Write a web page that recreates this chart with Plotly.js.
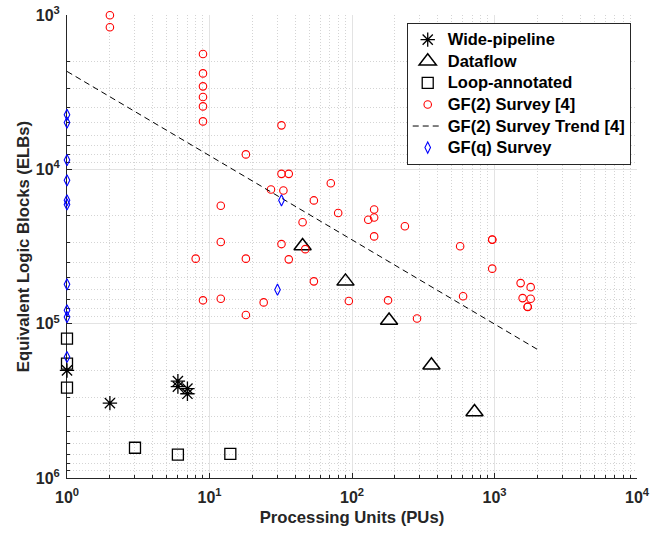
<!DOCTYPE html>
<html>
<head>
<meta charset="utf-8">
<script src="https://cdn.plot.ly/plotly-3.0.1.min.js"></script>
<style>html,body{margin:0;padding:0;background:#fff;}#chart{width:662px;height:534px;}</style>
</head>
<body>
<div id="chart"></div>
<script>
// Wide-pipeline
const wideX = [1, 2, 6, 6, 7, 7];
const wideY = [200900, 327000, 235500, 255900, 263700, 284600];
// Dataflow
const dataflowX = [45, 90, 182, 361, 724];
const dataflowY = [31400, 53200, 95300, 186000, 374000];
// Loop-annotated
const loopX = [1, 1, 1, 3, 6, 14];
const loopY = [125000, 181600, 260000, 636800, 705000, 697000];
// GF(2) Survey [4]
const gf2X = [2, 2, 9, 9, 9, 9, 9, 9, 32, 18, 32, 36, 27, 33, 12, 54, 45, 12, 32, 47, 8, 18, 36, 71, 80, 143, 130, 143, 235, 143, 574, 964, 964, 964, 9, 12, 18, 24, 54, 95, 179, 286, 602, 1525, 1794, 1575, 1794, 1709, 1709];
const gf2Y = [1003, 1200, 1790, 2390, 2900, 3400, 3910, 4890, 5190, 8000, 10700, 10700, 13500, 13700, 17200, 15900, 22000, 29600, 30500, 32900, 37900, 37900, 38300, 12300, 19200, 18200, 21200, 20500, 23400, 27200, 31500, 28500, 28600, 44000, 70600, 68900, 87900, 72800, 53200, 71300, 70600, 92500, 66500, 54600, 58000, 68300, 68900, 77600, 78000];
// GF(2) Survey Trend [4]
const trendX = [1, 2000];
const trendY = [2320, 146800];
// GF(q) Survey
const gfqX = [1, 1, 1, 1, 1, 1, 32, 1, 1, 1, 1, 30];
const gfqY = [4430, 4980, 8710, 11780, 15880, 16870, 15880, 55600, 82000, 90570, 164400, 60260];
// Tick labels
const xTickVals = [1, 10, 100, 1000, 10000];
const xTickText = ['10<sup>0</sup>', '10<sup>1</sup>', '10<sup>2</sup>', '10<sup>3</sup>', '10<sup>4</sup>'];
const yTickVals = [1000, 10000, 100000, 1000000];
const yTickText = ['10<sup>3</sup>', '10<sup>4</sup>', '10<sup>5</sup>', '10<sup>6</sup>'];

function minorTicks(e0, e1) {
  const out = [];
  for (let e = e0; e < e1; e++) for (let d = 2; d <= 9; d++) out.push(d * Math.pow(10, e));
  return out;
}

const FAM = 'Liberation Sans, Arial, Helvetica, sans-serif';
const tickFont = {family: FAM, size: 16, color: '#262626', weight: 'bold'};
const titleFont = {family: FAM, size: 16.7, color: '#262626', weight: 'bold'};
const lg = s => '<span style="font-size:16.5px">' + s + '</span>';

const traces = [
  {x: wideX, y: wideY, name: lg('Wide-pipeline'), mode: 'markers', type: 'scatter', cliponaxis: false,
   marker: {symbol: 'asterisk-open', size: 12, color: '#000', line: {color: '#000', width: 1.3}}},
  {x: dataflowX, y: dataflowY, name: lg('Dataflow'), mode: 'markers', type: 'scatter', cliponaxis: false,
   marker: {symbol: 'triangle-up-open', size: 15, color: '#000', line: {color: '#000', width: 1.5}}},
  {x: loopX, y: loopY, name: lg('Loop-annotated'), mode: 'markers', type: 'scatter', cliponaxis: false,
   marker: {symbol: 'square-open', size: 11, color: '#000', line: {color: '#000', width: 1.3}}},
  {x: gf2X, y: gf2Y, name: lg('GF(2) Survey [4]'), mode: 'markers', type: 'scatter', cliponaxis: false,
   marker: {symbol: 'circle-open', size: 7.5, color: '#ff0000', line: {color: '#ff0000', width: 1.1}}},
  {x: trendX, y: trendY, name: lg('GF(2) Survey Trend [4]'), mode: 'lines', type: 'scatter', cliponaxis: false,
   line: {color: '#000', width: 1, dash: '6px,4px'}},
  {x: gfqX, y: gfqY, name: lg('GF(q) Survey'), mode: 'markers', type: 'scatter', cliponaxis: false,
   marker: {symbol: 'diamond-tall-open', size: 8, color: '#0000ff', line: {color: '#0000ff', width: 1.1}}}
];

const axisCommon = {
  type: 'log',
  tickmode: 'array',
  showgrid: true,
  gridcolor: '#e3e3e3',
  gridwidth: 1,
  showline: true,
  linecolor: '#262626',
  linewidth: 1,
  ticks: 'inside',
  ticklen: 5,
  tickcolor: '#262626',
  tickfont: tickFont,
  zeroline: false,
  layer: 'below traces',
  automargin: false
};
const minorCommon = {tickmode: 'array', showgrid: true, gridcolor: '#d4d4d4', griddash: '1px,2px', gridwidth: 1, ticks: 'inside', ticklen: 3, tickcolor: '#262626'};

const layout = {
  width: 662, height: 534,
  margin: {l: 67, r: 25, t: 15, b: 56},
  paper_bgcolor: '#fff', plot_bgcolor: '#fff',
  font: tickFont,
  showlegend: true,
  xaxis: Object.assign({}, axisCommon, {
    range: [0, 4],
    tickvals: xTickVals, ticktext: xTickText,
    ticklabelstandoff: 5,
    minor: Object.assign({}, minorCommon, {tickvals: minorTicks(0, 4)}),
    title: {text: 'Processing Units (PUs)', font: titleFont, standoff: 6}
  }),
  yaxis: Object.assign({}, axisCommon, {
    range: [6, 3],
    tickvals: yTickVals, ticktext: yTickText,
    ticklabelstandoff: 3,
    minor: Object.assign({}, minorCommon, {tickvals: minorTicks(3, 6)}),
    title: {text: 'Equivalent Logic Blocks (ELBs)', font: titleFont, standoff: 1}
  }),
  legend: {
    x: 0.596, y: 0.983, xanchor: 'left', yanchor: 'top',
    bgcolor: '#fff', bordercolor: '#262626', borderwidth: 1,
    font: {family: FAM, size: 14.3, color: '#000', weight: 'bold'},
    tracegroupgap: 0
  }
};

Plotly.newPlot('chart', traces, layout, {displayModeBar: false, staticPlot: true});
</script>
</body>
</html>
